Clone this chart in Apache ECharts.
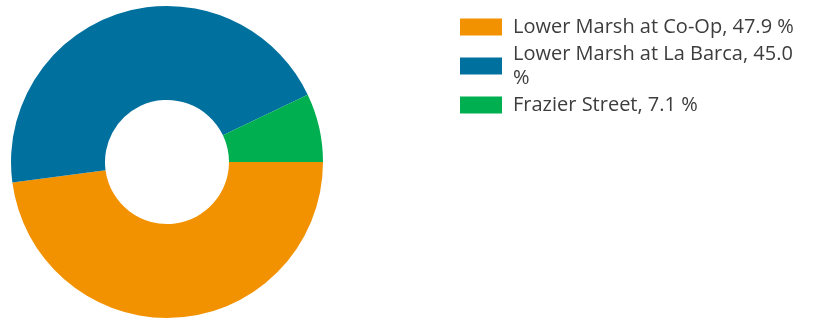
<!DOCTYPE html>
<html><head><meta charset="utf-8">
<script src="https://cdn.jsdelivr.net/npm/echarts@6/dist/echarts.min.js"></script>
<style>html,body{margin:0;padding:0;background:#fff}#c{width:823px;height:319px}</style>
</head><body><div id="c"></div>
<script>
const categories = ["Lower Marsh at Co-Op", "Lower Marsh at La Barca", "Frazier Street"];
const values = [47.9, 45.0, 7.1];
const colors = ["#F39200", "#00719E", "#00AF50"];

const chart = echarts.init(document.getElementById('c'), null, {renderer: 'canvas'});
chart.setOption({
  animation: false,
  color: colors,
  legend: {
    orient: 'vertical',
    left: 460,
    top: 15,
    padding: 0,
    itemWidth: 42,
    itemHeight: 17,
    itemGap: 3,
    icon: 'rect',
    formatter: function (name) {
      const i = categories.indexOf(name);
      return name + ', ' + values[i].toFixed(1) + ' %';
    },
    textStyle: {
      fontFamily: 'Open Sans',
      fontSize: 20,
      color: '#3d3d3d',
      width: 292,
      overflow: 'break',
      lineHeight: 24,
      padding: [0, 0, 0, 6]
    }
  },
  series: [{
    type: 'pie',
    center: [167, 162],
    radius: [62, 156],
    startAngle: 0,
    clockwise: true,
    label: {show: false},
    labelLine: {show: false},
    emphasis: {disabled: true},
    itemStyle: {borderWidth: 0},
    data: categories.map((c, i) => ({name: c, value: values[i]}))
  }]
});
</script></body></html>
